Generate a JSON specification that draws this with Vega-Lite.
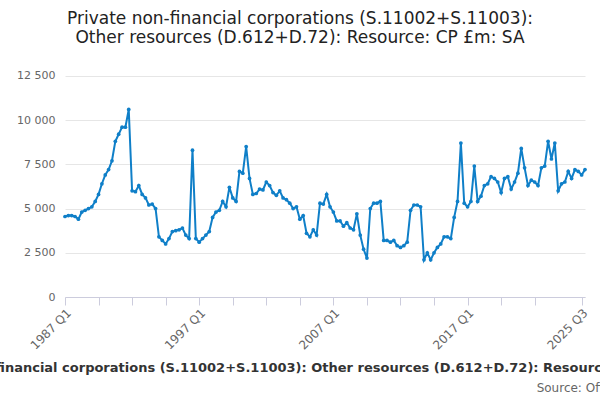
{
"$schema":"https://vega.github.io/schema/vega-lite/v6.json",
"width":520,"height":230,
"padding":{"left":65,"right":15,"top":67,"bottom":103},
"autosize":{"type":"none"},
"title":{"text":["Private non-financial corporations (S.11002+S.11003):","Other resources (D.612+D.72): Resource: CP £m: SA"],"fontSize":17,"font":"DejaVu Sans","fontWeight":"normal","color":"#222","offset":20,"anchor":"middle","dx":-25},
"config":{"view":{"stroke":null},"font":"DejaVu Sans"},
"datasets":{"v":[
4550,4600,4600,4550,4400,4800,4900,5000,5100,5400,5800,6400,6900,7200,7700,8800,9200,9600,9600,10600,
6000,5950,6300,5800,5600,5200,5250,5000,3400,3200,3000,3300,3700,3750,3800,3900,3500,3300,8300,3300,
3100,3300,3500,3700,4500,4800,4900,5400,5100,6200,5600,5400,7100,7000,8500,6700,5800,5850,6100,6050,
6500,6300,5900,5750,6000,5600,5500,5300,5000,5100,4400,4600,3600,3400,3800,3500,5300,5250,5800,5100,
4800,4300,4300,4000,4200,3900,3800,4700,3500,2700,2200,5000,5300,5300,5400,3200,3200,3100,3200,2900,
2800,2900,3100,4900,5200,5200,5100,2100,2500,2100,2500,2800,3000,3400,3400,3300,4500,5400,8700,5300,
5100,5400,7400,5400,5700,6300,6400,6800,6700,6500,5900,6700,6800,6100,6500,7000,8400,7300,6300,6600,
6500,6300,7300,7400,8800,7800,8700,6000,6400,6500,7100,6700,7200,7100,6900,7200]},
"layer":[
{"data":{"name":"v"},
"transform":[{"window":[{"op":"row_number","as":"i"}]},{"calculate":"toString(1987+floor((datum.i-1)/4))+' Q'+toString((datum.i-1)%4+1)","as":"q"}],
"mark":{"type":"line","color":"#0f7fc8","strokeWidth":2,"point":{"filled":true,"size":14,"color":"#0f7fc8"}},
"encoding":{
"x":{"field":"q","type":"ordinal","scale":{"type":"point","padding":0},
"axis":{"values":["1987 Q1","1989 Q3","1992 Q1","1994 Q3","1997 Q1","1999 Q3","2002 Q1","2004 Q3","2007 Q1","2009 Q3","2012 Q1","2014 Q3","2017 Q1","2019 Q3","2022 Q1","2025 Q3"],
"labelExpr":"indexof(['1987 Q1','1997 Q1','2007 Q1','2017 Q1','2025 Q3'],datum.value)>=0 ? datum.value : ''",
"labelAngle":-45,"labelFontSize":12,"labelColor":"#666","tickColor":"#ccd","domainColor":"#ccd","tickSize":8,"grid":false,
"title":"Private non-financial corporations (S.11002+S.11003): Other resources (D.612+D.72): Resource: CP £m: SA","titleFontSize":13,"titleFontWeight":"bold","titleColor":"#333","titlePadding":10,"titleX":235}},
"y":{"field":"data","type":"quantitative","scale":{"domain":[0,12500]},
"axis":{"values":[0,2500,5000,7500,10000,12500],"labelExpr":"replace(format(datum.value,','),',',' ')","labelFontSize":11,"labelColor":"#666","domain":false,"ticks":false,"gridColor":"#e6e6e6","title":null,"labelPadding":10}}}},
{"data":{"values":[{"s":"Source: Office for National Statistics"}]},
"mark":{"type":"text","align":"left","baseline":"middle","fontSize":12,"color":"#666","dx":-45},
"encoding":{"text":{"field":"s"},"x":{"datum":"2025 Q3"},"y":{"datum":-5150}}}
]
}
